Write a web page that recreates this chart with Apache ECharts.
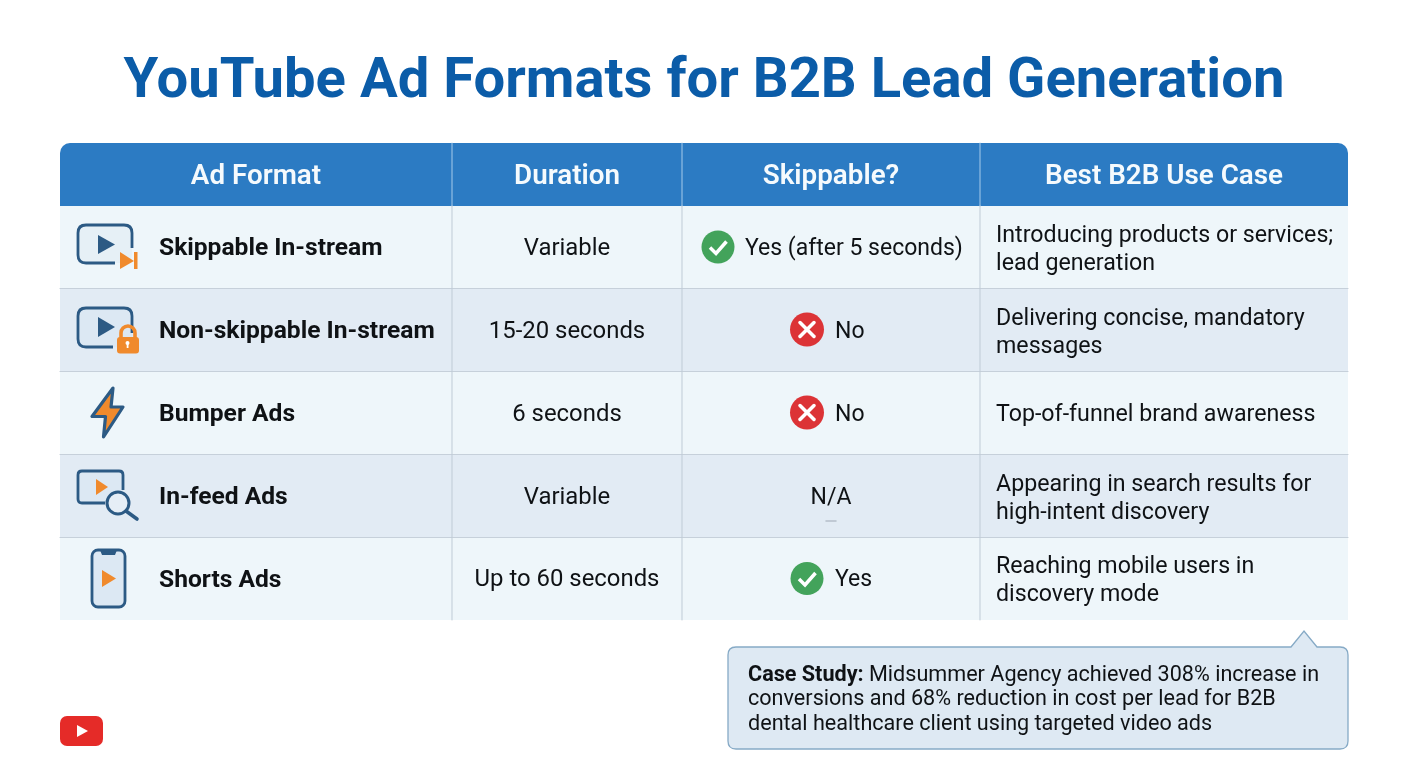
<!DOCTYPE html>
<html><head><meta charset="utf-8">
<style>html,body{margin:0;padding:0;background:#fff}#c{width:1408px;height:768px}</style>
<script src="https://cdn.jsdelivr.net/npm/echarts@6/dist/echarts.min.js"></script>
</head><body><div id="c"></div>
<script>
const titleText = 'YouTube Ad Formats for B2B Lead Generation';
const headers = ['Ad Format','Duration','Skippable?','Best B2B Use Case'];
const formats = ['Skippable In-stream','Non-skippable In-stream','Bumper Ads','In-feed Ads','Shorts Ads'];
const durations = ['Variable','15-20 seconds','6 seconds','Variable','Up to 60 seconds'];
const skippable = ['Yes (after 5 seconds)','No','No','N/A','Yes'];
const skipStatus = ['yes','no','no','na','yes'];
const useCases = [
  ['Introducing products or services;','lead generation'],
  ['Delivering concise, mandatory','messages'],
  ['Top-of-funnel brand awareness'],
  ['Appearing in search results for','high-intent discovery'],
  ['Reaching mobile users in','discovery mode']
];
const caseLabel = 'Case Study:';
const caseLines = [' Midsummer Agency achieved 308% increase in','conversions and 68% reduction in cost per lead for B2B','dental healthcare client using targeted video ads'];

const FONT = 'Roboto, Inter, sans-serif';
const colX = [60,452,682,980,1348];
const rowY = [206,289,372,455,538,620];
const NAVY = '#2C5A84', ORANGE = '#F08A2C', ICONBG = '#DCE8F3';
const BODY = 23.2, DUR = 23.9, BOLD = 24.6, CASE = 21.6, INK = '#0F1215';
const el = [];
let pathId = 0;
const rect = (x,y,w,h,fill,r,extra) => el.push(Object.assign({type:'rect',shape:{x,y,width:w,height:h,r:r||0},style:{fill},silent:true},extra||{}));
const line = (x1,y1,x2,y2,stroke,w) => el.push({type:'line',shape:{x1,y1,x2,y2},style:{stroke,lineWidth:w||1,lineCap:'round'},silent:true});
const path = (d,style) => {
  const name='svgPath'+(pathId++);
  echarts.graphic.registerShape(name,echarts.graphic.extendPath(d,{}));
  el.push({type:name,style,silent:true});
};
const poly = (pts,fill) => el.push({type:'polygon',shape:{points:pts},style:{fill},silent:true});
const circle = (cx,cy,r,style) => el.push({type:'circle',shape:{cx,cy,r},style,silent:true});
const text = (t,x,y,size,weight,align,fill) => el.push({type:'text',style:{text:t,x,y,fill:fill||INK,font:`${weight} ${size}px ${FONT}`,textAlign:align||'left',textVerticalAlign:'middle'},silent:true});

// Header
rect(colX[0],143,colX[4]-colX[0],63,'#2C7BC3',[10,10,0,0]);
headers.forEach((h,i)=>text(h,(colX[i]+colX[i+1])/2,177,27.8,600,'center','#F5FAFD'));
// Rows
formats.forEach((f,i)=>{
  const y0=rowY[i], y1=rowY[i+1], cy=(y0+y1)/2-1, ty=cy+2.5;
  rect(colX[0],y0,colX[4]-colX[0],y1-y0,i%2?'#E2EBF4':'#EEF6FA');
  if(i>0) line(colX[0],y0-0.5,colX[4],y0-0.5,'#C6D0DA',1.2);
  text(f,159,ty,BOLD,700);
  text(durations[i],(colX[1]+colX[2])/2,ty,DUR,400,'center');
  useCases[i].length===2
    ? (text(useCases[i][0],996,ty-13,BODY,400), text(useCases[i][1],996,ty+15,BODY,400))
    : text(useCases[i][0],996,ty,BODY,400);
  const wide = i===0;
  const ix = wide?718:807;
  if(skipStatus[i]==='yes'){
    circle(ix,cy+0.5,16.5,{fill:'#43A35B'});
    el.push({type:'polyline',shape:{points:[[ix-8,cy+1],[ix-2,cy+7],[ix+8.5,cy-5]]},style:{stroke:'#fff',lineWidth:3.5,fill:null},silent:true});
    text(skippable[i],wide?745:835,ty,23,400);
  } else if(skipStatus[i]==='no'){
    circle(ix,cy,17,{fill:'#DC3336'});
    line(ix-7,cy-7,ix+7,cy+7,'#fff',3.5); line(ix+7,cy-7,ix-7,cy+7,'#fff',3.5);
    text(skippable[i],835,ty,23,400);
  } else {
    text(skippable[i],(colX[2]+colX[3])/2,ty,23,400,'center');
    line(826,521,836,521,'#B5BFC9',1.5);
  }
});
// Column separators
for(let k=1;k<=3;k++){
  line(colX[k],143,colX[k],206,'#A5CBEA',1);
  line(colX[k],206,colX[k],620,'#BFCBD6',1);
}
// Icon 1: skippable
const screen=(x0,y0,x1,y1,gx,gy,r)=>`M${gx} ${y1}L${x0+r} ${y1}Q${x0} ${y1} ${x0} ${y1-r}L${x0} ${y0+r}Q${x0} ${y0} ${x0+r} ${y0}L${x1-r} ${y0}Q${x1} ${y0} ${x1} ${y0+r}L${x1} ${gy}`;
rect(78,225,54,38,'#E6F0F6',8);
path(screen(78,225,132,263,115,248,8),{fill:'none',stroke:NAVY,lineWidth:2.8});
poly([[98,235],[115,244.5],[98,254]],NAVY);
poly([[120,252],[134,261],[120,269]],ORANGE);
rect(134,252,3.5,17,ORANGE);
// Icon 2: lock
rect(78,308,54,39,ICONBG,8);
path(screen(78,308,132,347,113,333,8),{fill:'none',stroke:NAVY,lineWidth:2.8});
poly([[98,317],[115,327],[98,337]],NAVY);
path('M121 338L121 333A7 7 0 0 1 135 333L135 338',{fill:'none',stroke:ORANGE,lineWidth:3.6});
rect(117,337,22,16.5,ORANGE,3);
circle(127.5,343,2,{fill:'#fff'}); rect(126.7,343,1.8,5,'#fff');
// Icon 3: bolt
path('M113 388L92 416.5L105.5 416.5L103.5 437L123 407L111 407Z',{fill:ORANGE,stroke:NAVY,lineWidth:3.2,lineJoin:'round'});
// Icon 4: in-feed
rect(78,471,45,32,ICONBG,4);
path(screen(78,471,123,503,105,490,4),{fill:'none',stroke:NAVY,lineWidth:2.8});
poly([[96,479],[108,487],[96,495]],ORANGE);
circle(118,503,11,{fill:'#E6EEF6',stroke:NAVY,lineWidth:3});
line(126,511,137,519,NAVY,3.6);
// Icon 5: phone
rect(92,550,33,57,ICONBG,6,{style:{fill:ICONBG,stroke:NAVY,lineWidth:2.8}});
path('M100 550L117 550L115 555L102 555Z',{fill:NAVY});
poly([[102,570],[116,578.5],[102,587]],ORANGE);
// Callout
path('M736 647L1291 647L1304 631L1317 647L1340 647Q1348 647 1348 655L1348 741Q1348 749 1340 749L736 749Q728 749 728 741L728 655Q728 647 736 647Z',{fill:'#DEE9F3',stroke:'#86AAC6',lineWidth:1.3});
el.push({type:'text',style:{text:`{b|${caseLabel}}{n|${caseLines[0]}}`,x:748,y:676,textVerticalAlign:'middle',rich:{b:{font:`700 ${CASE}px ${FONT}`,fill:INK},n:{font:`400 ${CASE}px ${FONT}`,fill:INK}}},silent:true});
text(caseLines[1],748,700,CASE,400);
text(caseLines[2],748,725,CASE,400);
// YouTube logo
rect(60,716,43,30,'#E52B28',7);
poly([[77,725],[88,731],[77,737]],'#fff');

const chart = echarts.init(document.getElementById('c'),null,{renderer:'canvas'});
chart.setOption({
  animation:false,
  backgroundColor:'#fff',
  title:{text:titleText,left:'center',top:48,padding:0,textStyle:{fontFamily:FONT,fontSize:56.2,fontWeight:700,color:'#0B5CA8',lineHeight:70}},
  graphic:{elements:el}
});
</script></body></html>
